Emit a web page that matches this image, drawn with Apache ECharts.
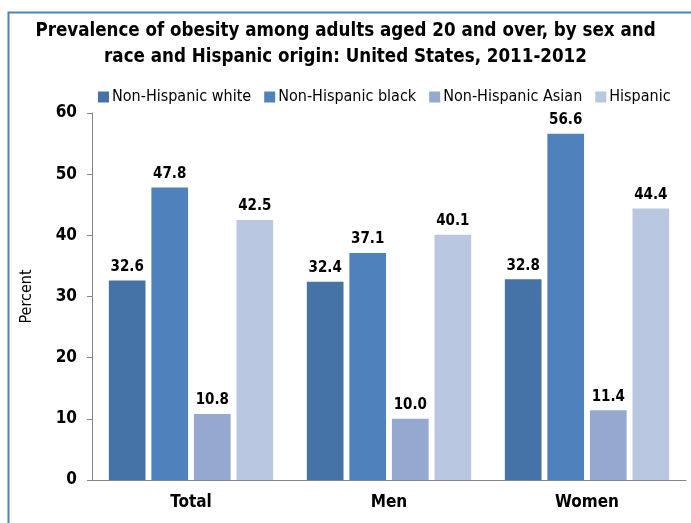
<!DOCTYPE html>
<html>
<head>
<meta charset="utf-8">
<script src="https://cdn.jsdelivr.net/npm/echarts@6/dist/echarts.min.js"></script>
<style>
html,body{margin:0;padding:0;background:#fff;}
#c{width:691px;height:523px;}
</style>
</head>
<body>
<div id="c"></div>
<script>
var categories = ['Total', 'Men', 'Women'];
var seriesNames = ['Non-Hispanic white', 'Non-Hispanic black', 'Non-Hispanic Asian', 'Hispanic'];
var nhWhite = [32.6, 32.4, 32.8];
var nhBlack = [47.8, 37.1, 56.6];
var nhAsian = [10.8, 10.0, 11.4];
var hispanic = [42.5, 40.1, 44.4];
var yTicks = [0, 10, 20, 30, 40, 50, 60];
var titleText = 'Prevalence of obesity among adults aged 20 and over, by sex and\nrace and Hispanic origin: United States, 2011-2012';

var colors = ['#4572a7', '#4f81bd', '#95a8d0', '#b9c7e1'];
var FONT = "'Liberation Sans Narrow', 'DejaVu Sans Condensed', 'Liberation Sans', sans-serif";
var values = [nhWhite, nhBlack, nhAsian, hispanic];

var chart = echarts.init(document.getElementById('c'), null, {renderer: 'canvas'});
var series = seriesNames.map(function (n, i) {
  return {
    name: n,
    type: 'bar',
    data: values[i],
    barGap: '16%',
    barCategoryGap: '17%',
    itemStyle: {color: colors[i]},
    label: {
      show: true,
      position: 'top',
      distance: 6,
      color: '#000',
      fontFamily: FONT,
      fontWeight: 'bold',
      fontSize: 15,
      formatter: function (p) { return p.value.toFixed(1); }
    }
  };
});

chart.setOption({
  animation: false,
  backgroundColor: '#fff',
  textStyle: {fontFamily: FONT},
  title: {
    text: titleText,
    left: 'center',
    top: 13,
    padding: [5, 0, 5, 8],
    textStyle: {fontFamily: FONT, fontSize: 18.6, fontWeight: 'bold', color: '#000', lineHeight: 26}
  },
  legend: {
    data: seriesNames,
    left: 93,
    top: 84,
    itemWidth: 11,
    itemHeight: 11,
    itemGap: 13,
    icon: 'rect',
    textStyle: {fontFamily: FONT, fontSize: 16, color: '#000', padding: [0, 0, 0, -2]}
  },
  grid: {left: 92, right: 5, top: 113, bottom: 43, containLabel: false},
  xAxis: {
    type: 'category',
    data: categories,
    axisLine: {lineStyle: {color: '#868686', width: 1}},
    axisTick: {show: false},
    axisLabel: {color: '#000', fontFamily: FONT, fontWeight: 'bold', fontSize: 17, margin: 14}
  },
  yAxis: {
    type: 'value',
    min: yTicks[0],
    max: yTicks[yTicks.length - 1],
    interval: 10,
    name: 'Percent',
    nameLocation: 'middle',
    nameGap: 57,
    nameTextStyle: {fontFamily: FONT, fontSize: 16, color: '#000'},
    splitLine: {show: false},
    axisLine: {show: true, lineStyle: {color: '#868686', width: 1}},
    axisTick: {show: true, inside: false, length: 5, lineStyle: {color: '#868686'}},
    axisLabel: {color: '#000', fontFamily: FONT, fontWeight: 'bold', fontSize: 17, margin: 15}
  },
  graphic: [{
    type: 'rect',
    left: 6, top: 10,
    shape: {x: 0, y: 0, width: 900, height: 900},
    style: {fill: 'none', stroke: '#4f81bd', lineWidth: 2},
    silent: true
  }],
  series: series
});
</script>
</body>
</html>
